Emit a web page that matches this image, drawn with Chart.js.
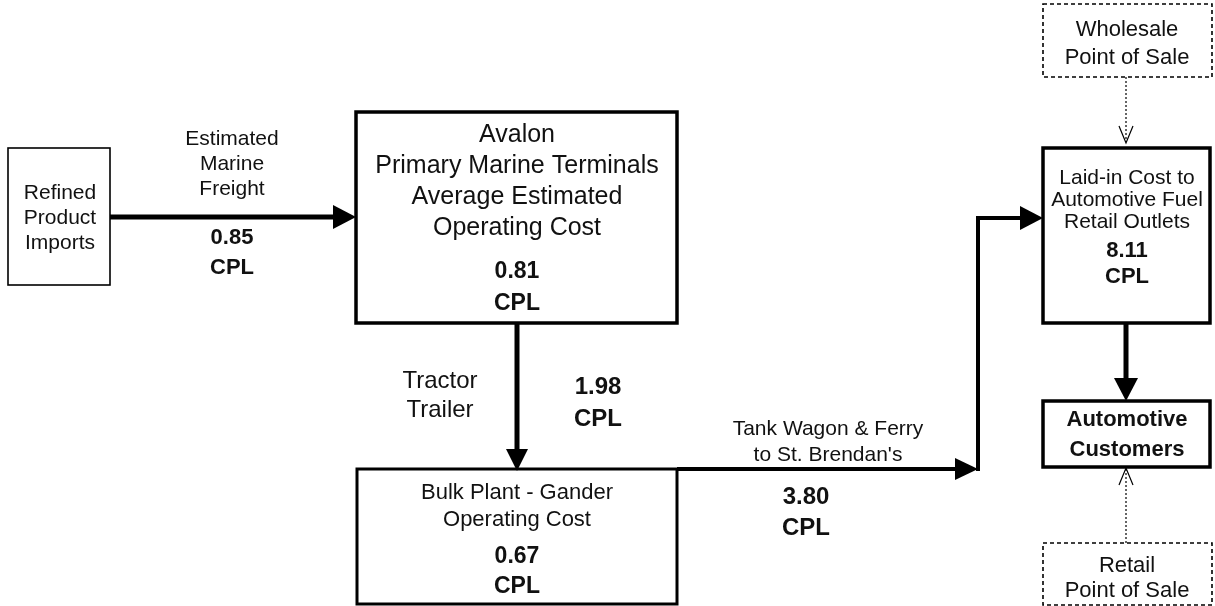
<!DOCTYPE html>
<html>
<head>
<meta charset="utf-8">
<script src="https://cdn.jsdelivr.net/npm/chart.js@4.4.1/dist/chart.umd.min.js"></script>
<style>
    body { margin: 0; background: #fff; }
    #wrap { width: 1215px; height: 606px; }
</style>
</head>
<body>
<div id="wrap"><canvas id="canvasFlujo" width="1215" height="606"></canvas></div>
<script>
// cost of each leg of the supply chain, cents per litre
var tramos = ["Estimated Marine Freight", "Avalon Primary Marine Terminals", "Tractor Trailer",
              "Bulk Plant - Gander", "Tank Wagon & Ferry to St. Brendan's", "Laid-in Cost to Automotive Fuel Retail Outlets"];
var costoCPL = [0.85, 0.81, 1.98, 0.67, 3.80, 8.11];
var unidad = "CPL";

// text of the diagram
var txtImports = ["Refined", "Product", "Imports"];
var txtFlete = ["Estimated", "Marine", "Freight"];
var txtAvalon = ["Avalon", "Primary Marine Terminals", "Average Estimated", "Operating Cost"];
var txtTractor = ["Tractor", "Trailer"];
var txtBulk = ["Bulk Plant - Gander", "Operating Cost"];
var txtFerry = ["Tank Wagon & Ferry", "to St. Brendan's"];
var txtLaidIn = ["Laid-in Cost to", "Automotive Fuel", "Retail Outlets"];
var txtClientes = ["Automotive", "Customers"];
var txtMayorista = ["Wholesale", "Point of Sale"];
var txtMinorista = ["Retail", "Point of Sale"];

// layout in chart units (x 0..1215, y 0..606 top-down)
var cajas = [
    { x0: 8, y0: 148, x1: 110, y1: 285, w: 1.6 },
    { x0: 356, y0: 112, x1: 677, y1: 323, w: 3.5 },
    { x0: 357, y0: 469, x1: 677, y1: 604, w: 3 },
    { x0: 1043, y0: 148, x1: 1210, y1: 323, w: 3.5 },
    { x0: 1043, y0: 401, x1: 1210, y1: 467, w: 3.5 },
    { x0: 1043, y0: 4, x1: 1212, y1: 77, w: 1.6, dash: [4, 3] },
    { x0: 1043, y0: 543, x1: 1212, y1: 605, w: 1.6, dash: [4, 3] }
];

var conectores = [
    { pts: [[110, 217], [336, 217]], w: 5, punta: { x: 356, y: 217, dir: "r", len: 23, half: 12 } },
    { pts: [[517, 323], [517, 452]], w: 5, punta: { x: 517, y: 471, dir: "d", len: 22, half: 11 } },
    { pts: [[677, 469], [958, 469]], w: 4, punta: { x: 978, y: 469, dir: "r", len: 23, half: 11 } },
    { pts: [[978, 471], [978, 218], [1022, 218]], w: 4, punta: { x: 1043, y: 218, dir: "r", len: 23, half: 12 } },
    { pts: [[1126, 323], [1126, 380]], w: 5, punta: { x: 1126, y: 401, dir: "d", len: 23, half: 12 } },
    { pts: [[1126, 77], [1126, 142]], w: 1.2, dash: [2, 2], abierta: { x: 1126, y: 143, dir: "d" } },
    { pts: [[1126, 543], [1126, 469]], w: 1.2, dash: [2, 2], abierta: { x: 1126, y: 468, dir: "u" } }
];

var FUENTE = '"Liberation Sans", Arial, sans-serif';

function armarDatasets() {
    var ds = [];
    for (let i = 0; i < conectores.length; i++) {
        var c = conectores[i];
        ds.push({
            type: "line",
            data: c.pts.map(function (p) { return { x: p[0], y: p[1] }; }),
            borderColor: "#000",
            borderWidth: c.w,
            borderDash: c.dash || [],
            pointRadius: 0,
            fill: false,
            tension: 0,
            borderCapStyle: "butt",
            borderJoinStyle: "miter"
        });
    }
    return ds;
}

var pluginDiagrama = {
    id: "diagrama",
    afterDatasetsDraw: function (chart) {
        var ctx = chart.ctx;
        var sx = chart.scales.x, sy = chart.scales.y;
        var px = function (v) { return sx.getPixelForValue(v); };
        var py = function (v) { return sy.getPixelForValue(v); };

        ctx.save();
        // boxes
        for (let i = 0; i < cajas.length; i++) {
            var b = cajas[i];
            ctx.lineWidth = b.w;
            ctx.strokeStyle = "#000";
            ctx.setLineDash(b.dash || []);
            ctx.strokeRect(px(b.x0), py(b.y0), px(b.x1) - px(b.x0), py(b.y1) - py(b.y0));
        }
        ctx.setLineDash([]);

        // arrow heads
        for (let i = 0; i < conectores.length; i++) {
            var c = conectores[i];
            if (c.punta) {
                var p = c.punta;
                ctx.fillStyle = "#000";
                ctx.beginPath();
                if (p.dir === "r") {
                    ctx.moveTo(px(p.x), py(p.y));
                    ctx.lineTo(px(p.x - p.len), py(p.y - p.half));
                    ctx.lineTo(px(p.x - p.len), py(p.y + p.half));
                } else {
                    ctx.moveTo(px(p.x), py(p.y));
                    ctx.lineTo(px(p.x - p.half), py(p.y - p.len));
                    ctx.lineTo(px(p.x + p.half), py(p.y - p.len));
                }
                ctx.closePath();
                ctx.fill();
            }
            if (c.abierta) {
                var a = c.abierta;
                var s = a.dir === "d" ? -1 : 1;
                ctx.lineWidth = 1.2;
                ctx.strokeStyle = "#000";
                ctx.beginPath();
                ctx.moveTo(px(a.x - 7), py(a.y + s * 17));
                ctx.lineTo(px(a.x), py(a.y));
                ctx.lineTo(px(a.x + 7), py(a.y + s * 17));
                ctx.stroke();
            }
        }

        // text
        ctx.fillStyle = "#111";
        ctx.textAlign = "center";
        ctx.textBaseline = "middle";
        function escribir(lineas, x, ys, size, bold) {
            ctx.font = (bold ? "bold " : "") + size + "px " + FUENTE;
            for (let k = 0; k < lineas.length; k++) {
                ctx.fillText(lineas[k], px(x), py(ys[k]));
            }
        }
        function valor(i, x, y1, y2, size) {
            escribir([costoCPL[i].toFixed(2), unidad], x, [y1, y2], size, true);
        }

        escribir(txtImports, 60, [193, 218, 243], 21, false);
        escribir(txtFlete, 232, [139, 164, 189], 21, false);
        valor(0, 232, 238, 268, 22);

        escribir(txtAvalon, 517, [135, 166, 197, 228], 25, false);
        valor(1, 517, 272, 304, 23);

        escribir(txtTractor, 440, [381, 410], 24, false);
        valor(2, 598, 387, 419, 24);

        escribir(txtBulk, 517, [493, 520], 22, false);
        valor(3, 517, 557, 587, 23);

        escribir(txtFerry, 828, [429, 455], 21, false);
        valor(4, 806, 497, 528, 24);

        escribir(txtLaidIn, 1127, [178, 200, 222], 21, false);
        valor(5, 1127, 251, 277, 22);

        escribir(txtClientes, 1127, [420, 450], 22, true);
        escribir(txtMayorista, 1127, [30, 58], 22, false);
        escribir(txtMinorista, 1127, [566, 591], 22, false);
        ctx.restore();
    }
};

document.addEventListener("DOMContentLoaded", function () {
    var canvasFlujo = document.getElementById("canvasFlujo");
    var miDiagrama = new Chart(canvasFlujo, {
        type: "scatter",
        data: { labels: tramos, datasets: armarDatasets() },
        options: {
            responsive: false,
            animation: false,
            layout: { padding: 0 },
            plugins: { legend: { display: false }, tooltip: { enabled: false } },
            scales: {
                x: { type: "linear", min: 0, max: 1215, display: false },
                y: { type: "linear", min: 0, max: 606, reverse: true, display: false }
            }
        },
        plugins: [pluginDiagrama]
    });
});
</script>
</body>
</html>
